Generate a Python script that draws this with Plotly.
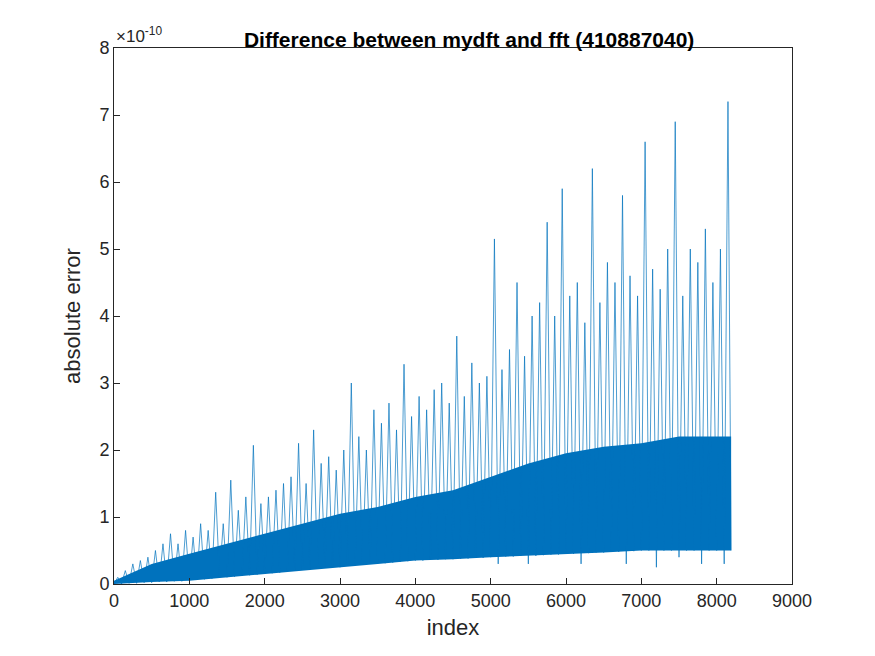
import plotly.graph_objects as go

# envelope, units of 1e-10
peak_x = [50 + 100 * i for i in range(82)]
peaks = [0.1, 0.2, 0.3, 0.35, 0.4, 0.5, 0.6, 0.75, 0.6, 0.8,
         0.7, 0.9, 0.8, 1.37, 0.9, 1.55, 1.1, 1.3, 2.07, 1.2,
         1.3, 1.4, 1.5, 1.6, 2.1, 1.5, 2.3, 1.8, 1.9, 1.7,
         2.0, 3.0, 2.2, 2.0, 2.6, 2.4, 2.7, 2.3, 3.28, 2.5,
         2.8, 2.6, 2.9, 3.0, 2.7, 3.7, 2.8, 3.3, 3.0, 3.1,
         5.15, 3.2, 3.5, 4.5, 3.4, 4.0, 4.2, 5.4, 4.0, 5.9,
         4.3, 4.5, 3.9, 6.2, 4.2, 4.8, 4.5, 5.8, 4.6, 4.3,
         6.6, 4.7, 4.4, 5.0, 6.9, 4.3, 5.0, 4.8, 5.3, 4.5,
         5.0, 7.2]
trough_x = [100 * i for i in range(82)] + [8192]
troughs = [0.0, 0.0, 0.01, 0.01, 0.02, 0.02, 0.03, 0.03, 0.04, 0.04,
           0.05, 0.06, 0.07, 0.08, 0.09, 0.1, 0.11, 0.12, 0.13, 0.14,
           0.15, 0.16, 0.17, 0.18, 0.2, 0.21, 0.22, 0.23, 0.24, 0.24,
           0.25, 0.27, 0.28, 0.29, 0.3, 0.3, 0.31, 0.32, 0.33, 0.34,
           0.35, 0.35, 0.36, 0.36, 0.37, 0.37, 0.38, 0.38, 0.39, 0.39,
           0.4, 0.3, 0.41, 0.41, 0.42, 0.3, 0.42, 0.43, 0.44, 0.44,
           0.45, 0.45, 0.3, 0.46, 0.47, 0.47, 0.48, 0.48, 0.3, 0.49,
           0.5, 0.5, 0.25, 0.5, 0.5, 0.4, 0.5, 0.5, 0.3, 0.5,
           0.5, 0.3, 0.5]
core_x = [0, 500, 1000, 1500, 2000, 2500, 3000, 3500, 4000, 4500,
          5000, 5500, 6000, 6500, 7000, 7500, 8000, 8192]
core_top = [0.05, 0.3, 0.45, 0.6, 0.75, 0.9, 1.05, 1.15, 1.3, 1.4,
            1.6, 1.8, 1.95, 2.05, 2.1, 2.2, 2.2, 2.2]
core_low = [0.0, 0.03, 0.05, 0.1, 0.15, 0.2, 0.25, 0.3, 0.35, 0.37,
            0.4, 0.42, 0.45, 0.47, 0.5, 0.5, 0.5, 0.5]

pts = sorted(list(zip(peak_x, peaks)) + list(zip(trough_x, troughs)))
blue = "#0072BD"

fig = go.Figure()
fig.add_trace(go.Scatter(x=core_x + core_x[::-1], y=core_top + core_low[::-1],
                         fill="toself", fillcolor=blue, line=dict(width=0),
                         hoverinfo="skip"))
fig.add_trace(go.Scatter(x=[p[0] for p in pts], y=[p[1] for p in pts],
                         mode="lines", line=dict(color=blue, width=0.7)))

ax = dict(showgrid=False, zeroline=False, showline=True, linecolor="#262626",
          linewidth=1, mirror=True, ticks="inside", ticklen=6,
          tickcolor="#262626", tickfont=dict(size=18, color="#262626"))
fig.update_layout(
    width=875, height=656, showlegend=False,
    plot_bgcolor="white", paper_bgcolor="white",
    font=dict(family="Liberation Sans, Arial", color="#262626"),
    margin=dict(l=106, r=91, t=40, b=80),
    xaxis=dict(ax, range=[0, 9000], dtick=1000,
               title=dict(text="index", font=dict(size=22), standoff=10)),
    yaxis=dict(ax, range=[0, 8], dtick=1,
               title=dict(text="absolute error", font=dict(size=22), standoff=12)),
    title=dict(text="<b>Difference between mydft and fft (410887040)</b>",
               x=0.527, xanchor="center", y=0.952, yanchor="middle",
               font=dict(size=21, color="black")),
)
fig.add_annotation(text="×10<sup>-10</sup>", xref="paper", yref="paper",
                   x=0, y=1, xanchor="left", yanchor="bottom", showarrow=False,
                   font=dict(size=17, color="#262626"))
fig.write_html("out.html")
